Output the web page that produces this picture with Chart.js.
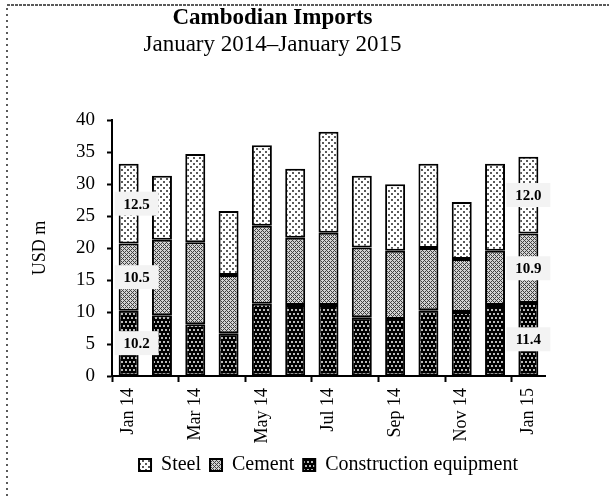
<!DOCTYPE html>
<html>
<head>
<meta charset="utf-8">
<script src="https://cdn.jsdelivr.net/npm/chart.js@4.4.1/dist/chart.umd.min.js"></script>
<style>
  html, body { margin: 0; padding: 0; background: #fff; }
  #wrap { position: relative; width: 609px; height: 499px; }
</style>
</head>
<body>
<div id="wrap"><canvas id="chart" width="609" height="499"></canvas></div>
<script>
// Monthly imports, USD million
const months = ['Jan 14', 'Feb 14', 'Mar 14', 'Apr 14', 'May 14', 'Jun 14', 'Jul 14',
                'Aug 14', 'Sep 14', 'Oct 14', 'Nov 14', 'Dec 14', 'Jan 15'];
const construction = [10.2, 9.5, 8.1, 6.7, 11.3, 11.1, 11.1, 9.2, 8.9, 10.3, 10.0, 11.1, 11.4];
const cement       = [10.5, 11.8, 12.8, 9.1, 12.2, 10.5, 11.3, 10.9, 10.7, 9.7, 8.3, 8.5, 10.9];
const steel        = [12.5, 10.0, 13.8, 10.0, 12.6, 10.8, 15.8, 11.2, 10.4, 13.2, 8.9, 13.6, 12.0];
const seriesNames  = ['Construction equipment', 'Cement', 'Steel'];
const labelledMonths = [0, 12];   // months whose segments carry value labels
const yMin = 0, yMax = 40, yStep = 5;

const SERIF = "'Liberation Serif', 'Times New Roman', serif";

// --- fill patterns -------------------------------------------------------
function tile(w, h, paint) {
  const c = document.createElement('canvas');
  c.width = w; c.height = h;
  const g = c.getContext('2d');
  paint(g);
  return g.createPattern(c, 'repeat');
}
// grey dots on white
const steelFill = tile(6, 6, g => {
  g.fillStyle = '#fff'; g.fillRect(0, 0, 6, 6);
  g.fillStyle = '#5a5a5a';
  g.fillRect(1, 1, 2, 2);
  g.fillRect(4, 4, 2, 2);
});
// grey diagonal crosshatch
const cementFill = tile(4, 4, g => {
  for (let x = 0; x < 4; x++) {
    for (let y = 0; y < 4; y++) {
      const dark = ((x + y) % 4 === 0) || (((x - y) % 4 + 4) % 4 === 0);
      g.fillStyle = dark ? '#404040' : '#d2d2d2';
      g.fillRect(x, y, 1, 1);
    }
  }
});
// light dots on black
const constructionFill = tile(8, 8, g => {
  g.fillStyle = '#000'; g.fillRect(0, 0, 8, 8);
  g.fillStyle = '#b8b8b8';
  g.fillRect(1, 1, 2, 2);
  g.fillRect(5, 1, 2, 2);
  g.fillRect(3, 5, 2, 2);
  g.fillRect(7, 5, 1, 2);
  g.fillRect(0, 5, 1, 2);
});

// --- plugins ---------------------------------------------------------------
const framePlugin = {
  id: 'frame',
  beforeDraw(chart) {
    const ctx = chart.ctx;
    ctx.save();
    ctx.strokeStyle = '#5a5a5a';
    ctx.lineWidth = 2;
    ctx.setLineDash([3, 1]);
    ctx.beginPath();
    ctx.moveTo(7, 5); ctx.lineTo(chart.width, 5);
    ctx.stroke();
    ctx.setLineDash([2, 4]);
    ctx.beginPath();
    ctx.moveTo(7, 8); ctx.lineTo(7, chart.height);
    ctx.stroke();
    ctx.restore();
  }
};

const valueLabels = {
  id: 'valueLabels',
  afterDatasetsDraw(chart) {
    const ctx = chart.ctx;
    ctx.save();
    ctx.font = 'bold 15px ' + SERIF;
    ctx.textAlign = 'center';
    ctx.textBaseline = 'middle';
    chart.data.datasets.forEach((ds, di) => {
      const meta = chart.getDatasetMeta(di);
      labelledMonths.forEach(i => {
        const bar = meta.data[i];
        const shift = i === 0 ? 8 : 0;   // keep the first labels clear of the axis
        const cx = bar.x + shift;
        const cy = (bar.y + bar.base) / 2;
        const text = ds.data[i].toFixed(1);
        ctx.fillStyle = '#f3f3f3';
        ctx.fillRect(cx - 22, cy - 12, 44, 24);
        ctx.fillStyle = '#000';
        ctx.fillText(text, cx, cy + 1);
      });
    });
    ctx.restore();
  }
};

// --- chart ---------------------------------------------------------------
const fills = [constructionFill, cementFill, steelFill];
const values = [construction, cement, steel];

new Chart(document.getElementById('chart'), {
  type: 'bar',
  data: {
    labels: months,
    datasets: seriesNames.map((name, k) => ({
      label: name,
      data: values[k],
      backgroundColor: fills[k],
      borderColor: '#000',
      borderWidth: 2,
      borderSkipped: false,
      barPercentage: 0.6,
      categoryPercentage: 1.0
    }))
  },
  options: {
    responsive: false,
    animation: false,
    events: [],
    layout: { padding: { left: 0, right: 64, top: 0, bottom: 14 } },
    plugins: {
      title: {
        display: true,
        text: 'Cambodian Imports',
        color: '#000',
        font: { family: SERIF, size: 23, weight: 'bold' },
        padding: { top: 4, bottom: 0 }
      },
      subtitle: {
        display: true,
        text: 'January 2014–January 2015',
        color: '#000',
        font: { family: SERIF, size: 23, weight: 'normal' },
        padding: { top: 0, bottom: 61 }
      },
      legend: {
        position: 'bottom',
        fullSize: false,
        reverse: true,
        labels: {
          color: '#000',
          font: { family: SERIF, size: 20 },
          boxWidth: 12,
          boxHeight: 12,
          padding: 9
        }
      },
      tooltip: { enabled: false }
    },
    scales: {
      x: {
        stacked: true,
        offset: true,
        grid: {
          offset: true,
          drawOnChartArea: false,
          tickLength: 6,
          tickWidth: 2,
          tickColor: c => (c.index % 2 === 0 ? '#000' : 'rgba(0,0,0,0)')
        },
        border: { color: '#000', width: 2 },
        ticks: {
          autoSkip: false,
          minRotation: 90,
          maxRotation: 90,
          padding: 6,
          color: '#000',
          font: { family: SERIF, size: 18 },
          callback(v, i) { return i % 2 === 0 ? this.getLabelForValue(v) : ''; }
        },
        afterFit(scale) { scale.height = 70; }
      },
      y: {
        stacked: true,
        min: yMin,
        max: yMax,
        grid: {
          drawOnChartArea: false,
          tickLength: 5,
          tickWidth: 2,
          tickColor: '#000'
        },
        border: { color: '#000', width: 2 },
        ticks: {
          stepSize: yStep,
          padding: 12,
          color: '#000',
          font: { family: SERIF, size: 19 }
        },
        title: {
          display: true,
          text: 'USD m',
          color: '#000',
          font: { family: SERIF, size: 18 },
          padding: { top: 29, bottom: 0 }
        },
        afterFit(scale) { scale.width = 112; }
      }
    }
  },
  plugins: [framePlugin, valueLabels]
});
</script>
</body>
</html>
